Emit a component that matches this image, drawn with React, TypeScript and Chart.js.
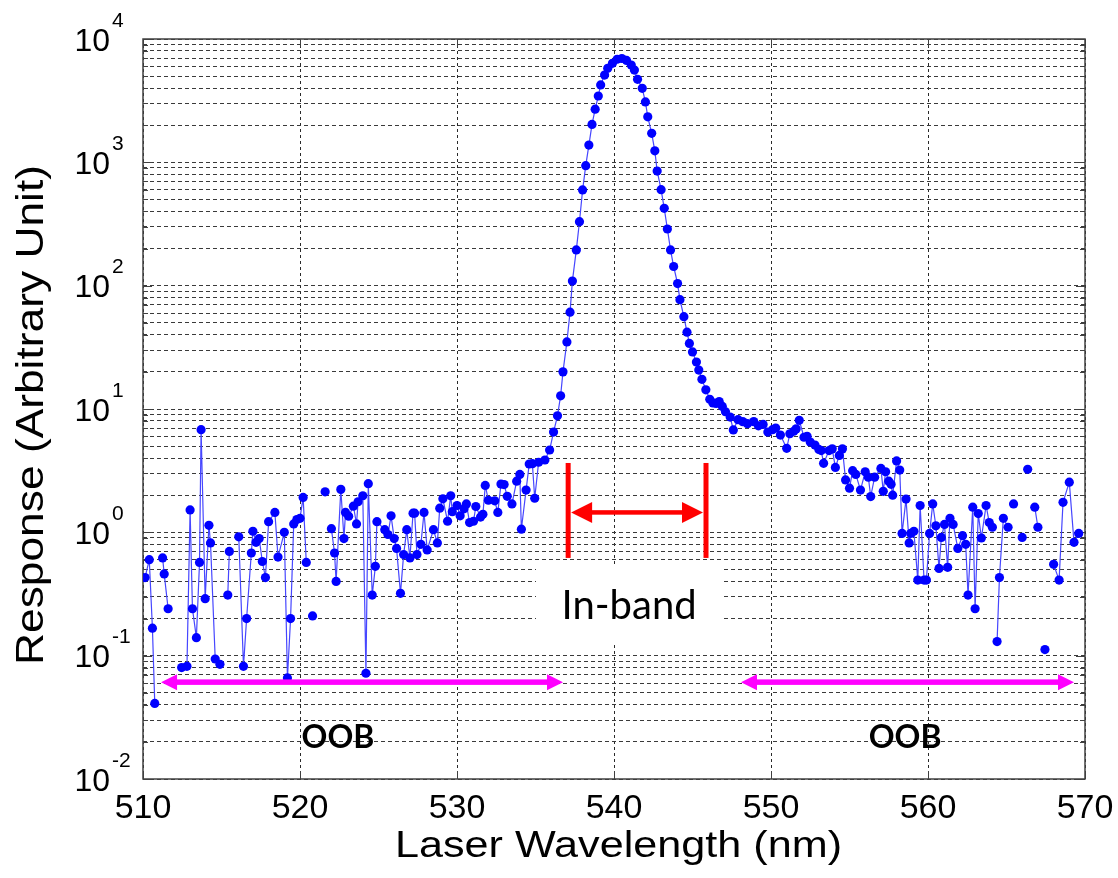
import React, { useEffect, useRef } from "react";
import { Chart, registerables } from "chart.js";

Chart.register(...registerables);

// ---- data (wavelength in nm, response in arbitrary unit; null = missing sample) ----
const wavelengths: number[] = [
  510.13, 510.4, 510.6, 510.75, 511.0, 511.25, 511.35, 511.6, 512.0, 512.46,
  512.8, 513.0, 513.15, 513.4, 513.6, 513.7, 513.96, 514.2, 514.3, 514.6,
  514.9, 515.15, 515.4, 515.5, 515.8, 516.1, 516.4, 516.6, 516.9, 517.0,
  517.2, 517.4, 517.6, 517.8, 518.0, 518.4, 518.6, 519.0, 519.2, 519.4,
  519.6, 519.8, 520.0, 520.2, 520.4, 520.6, 520.8, 521.2, 521.6, 521.8,
  522.0, 522.2, 522.3, 522.6, 522.8, 522.9, 523.1, 523.4, 523.6, 523.7,
  524.0, 524.2, 524.35, 524.6, 524.8, 524.9, 525.4, 525.6, 525.8, 526.0,
  526.15, 526.4, 526.6, 526.8, 527.0, 527.2, 527.3, 527.45, 527.7, 527.9,
  528.1, 528.5, 528.75, 528.9, 529.1, 529.4, 529.6, 529.7, 530.0, 530.2,
  530.45, 530.6, 530.8, 531.05, 531.2, 531.5, 531.65, 531.8, 532.0, 532.4,
  532.6, 532.8, 533.0, 533.2, 533.5, 533.8, 534.0, 534.1, 534.4, 534.6,
  534.8, 534.95, 535.2, 535.6, 535.9, 536.15, 536.4, 536.6, 536.75, 537.0,
  537.2, 537.35, 537.6, 537.8, 538.0, 538.2, 538.4, 538.6, 538.8, 539.0,
  539.15, 539.4, 539.6, 539.9, 540.2, 540.5, 540.8, 541.1, 541.3, 541.5,
  541.8, 542.0, 542.15, 542.4, 542.6, 542.75, 543.0, 543.2, 543.4, 543.6,
  543.8, 544.05, 544.2, 544.45, 544.65, 544.8, 545.0, 545.25, 545.4, 545.6,
  545.85, 546.1, 546.3, 546.5, 546.7, 546.9, 547.1, 547.4, 547.6, 547.9,
  548.2, 548.5, 548.9, 549.2, 549.5, 549.8, 550.1, 550.3, 550.6, 551.0,
  551.2, 551.45, 551.6, 551.8, 552.1, 552.3, 552.5, 552.8, 553.05, 553.2,
  553.35, 553.7, 553.9, 554.1, 554.35, 554.55, 554.75, 555.0, 555.2, 555.4,
  555.7, 556.0, 556.2, 556.35, 556.6, 557.0, 557.15, 557.3, 557.5, 557.65,
  557.75, 558.0, 558.2, 558.35, 558.6, 558.8, 558.9, 559.1, 559.35, 559.5,
  559.75, 559.9, 560.1, 560.3, 560.5, 560.7, 560.85, 561.05, 561.25, 561.4,
  561.6, 561.9, 562.2, 562.4, 562.55, 562.85, 563.0, 563.2, 563.4, 563.7,
  563.9, 564.1, 564.25, 564.4, 564.55, 564.8, 565.1, 565.3, 565.45, 565.8,
  566.0, 566.2, 566.35, 566.6, 566.8, 567.0, 567.2, 567.45, 567.7, 568.0,
  568.35, 568.6, 569.0, 569.3, 569.6,
];

const responses: (number | null)[] = [
  0.43, 0.6, 0.167, 0.041, null, 0.62, 0.46, 0.24, null, 0.08,
  0.082, 1.52, 0.24, 0.14, 0.57, 6.8, 0.29, 1.14, 0.82, 0.094,
  0.085, null, 0.31, 0.7, null, 0.92, 0.082, 0.2, 0.68, 1.02,
  0.83, 0.89, 0.58, 0.43, 1.22, 1.45, 0.63, 1.0, 0.066, 0.2,
  1.17, 1.27, 1.3, 1.92, 0.57, null, 0.21, null, 2.13, null,
  1.07, 0.68, 0.4, 2.23, 0.89, 1.45, 1.35, 1.63, 1.17, 1.77,
  1.98, 0.072, 2.48, 0.31, 0.53, 1.22, 1.05, 0.96, 1.36, 0.89,
  0.74, 0.32, 0.66, 1.05, 0.62, 1.43, 1.43, 0.66, 0.8, 1.45,
  0.72, 1.05, 0.82, 1.57, 1.87, 1.23, 1.98, 1.47, 1.65, 1.36,
  1.55, 1.7, 1.2, 1.23, 1.62, 1.33, 1.4, 2.4, 1.82, 1.8,
  1.45, 2.46, 2.44, 1.96, 1.7, 2.6, 2.95, 1.06, 2.2, 3.58,
  3.6, 1.89, 3.7, 3.86, 4.65, 6.5, 8.8, 12.8, 20, 35,
  61, 109, 195, 330, 597, 940, 1380, 2030, 2700, 3450,
  4240, 5100, 5780, 6350, 6850, 6950, 6700, 6150, 5600, 4710,
  3980, 3090, 2340, 1720, 1240, 850, 600, 424, 288, 195,
  143, 104, 77, 56, 42, 34, 29, 24, 20.7, 17.4,
  14.3, 12.0, 11.2, 11.1, 11.5, 10.5, 9.5, 8.6, 6.76, 8.2,
  7.9, 7.6, 7.9, 7.3, 7.5, 6.5, 6.8, 7.0, 6.15, 4.8,
  6.3, 6.6, 6.9, 8.1, 5.9, 6.0, 5.4, 5.1, 4.7, 4.6,
  3.63, 4.6, 4.75, 3.36, 4.2, 4.75, 2.66, 2.28, 3.16, 2.95,
  2.2, 3.1, 2.8, 1.95, 2.8, 3.3, 2.15, 3.1, 2.6, 2.45,
  2.0, 3.79, 3.2, 0.98, 1.86, 0.82, 0.98, 1.02, 0.41, 1.65,
  0.41, 0.41, 0.98, 1.7, 1.13, 0.51, 0.91, 1.16, 0.52, 1.3,
  1.16, 0.74, 0.94, 0.8, 0.31, 1.6, 0.24, 1.42, 0.9, 1.65,
  1.2, 1.1, null, 0.13, 0.43, 1.3, 1.1, null, 1.7, null,
  0.91, null, 3.24, null, 1.6, 1.1, null, 0.112, null, 0.55,
  0.41, 1.75, 2.55, 0.83, 0.98,
];

// ---- axes ----
const xTickValues = [510, 520, 530, 540, 550, 560, 570];
const yExponents = [-2, -1, 0, 1, 2, 3, 4];
const yMinorMultipliers = [1, 2, 3, 4, 5, 6, 7, 8, 9];
const xAxisTitle = "Laser Wavelength (nm)";
const yAxisTitle = "Response (Arbitrary Unit)";

// ---- annotations (data coordinates) ----
const inBandBarsX = [537.08, 545.86];
const inBandBarsY = [0.62, 3.65];
const inBandArrowY = 1.45;
const inBandLabel = "In-band";
const inBandLabelAt = [540.96, 0.2];
const inBandBoxX = [535.03, 546.82];
const inBandBoxY = [0.533, 0.122];
const oobArrowsX = [
  [511.15, 536.75],
  [548.09, 569.3],
];
const oobArrowY = 0.061;
const oobLabel = "OOB";
const oobLabelsX = [522.42, 558.54];
const oobLabelY = 0.0178;

const yTickValues: number[] = [];
yExponents.forEach((e) => {
  if (e === yExponents[yExponents.length - 1]) {
    yTickValues.push(Math.pow(10, e));
  } else {
    yMinorMultipliers.forEach((m) => yTickValues.push(Number((m * Math.pow(10, e)).toPrecision(3))));
  }
});

const AXIS_FONT = '"Liberation Sans", Arial, sans-serif';
const NOTE_FONT = 'Lato, "Open Sans", sans-serif';

function doubleArrow(
  ctx: CanvasRenderingContext2D,
  x1: number,
  x2: number,
  y: number,
  shaft: number,
  headLen: number,
  headHalf: number,
  color: string
) {
  ctx.fillStyle = color;
  ctx.fillRect(x1 + headLen - 1, y - shaft / 2, x2 - x1 - 2 * headLen + 2, shaft);
  ctx.beginPath();
  ctx.moveTo(x1, y);
  ctx.lineTo(x1 + headLen, y - headHalf);
  ctx.lineTo(x1 + headLen, y + headHalf);
  ctx.closePath();
  ctx.fill();
  ctx.beginPath();
  ctx.moveTo(x2, y);
  ctx.lineTo(x2 - headLen, y - headHalf);
  ctx.lineTo(x2 - headLen, y + headHalf);
  ctx.closePath();
  ctx.fill();
}

const overlayPlugin = {
  id: "overlay",
  beforeDatasetsDraw(chart: any) {
    const { ctx, chartArea: a, scales } = chart;
    const x = scales.x;
    const y = scales.y;
    ctx.save();
    // white label box that hides the grid
    const bx1 = x.getPixelForValue(inBandBoxX[0]);
    const bx2 = x.getPixelForValue(inBandBoxX[1]);
    const by1 = y.getPixelForValue(inBandBoxY[0]);
    const by2 = y.getPixelForValue(inBandBoxY[1]);
    ctx.fillStyle = "#ffffff";
    ctx.fillRect(bx1, by1, bx2 - bx1, by2 - by1);
    // frame
    ctx.strokeStyle = "#404040";
    ctx.lineWidth = 1.5;
    ctx.strokeRect(a.left, a.top, a.right - a.left, a.bottom - a.top);
    // inner tick marks
    ctx.lineWidth = 1;
    ctx.beginPath();
    yTickValues.forEach((v) => {
      const py = Math.round(y.getPixelForValue(v)) + 0.5;
      const major = Math.abs(Math.log10(v) - Math.round(Math.log10(v))) < 1e-6;
      const len = major ? 9 : 5;
      ctx.moveTo(a.left, py);
      ctx.lineTo(a.left + len, py);
      ctx.moveTo(a.right, py);
      ctx.lineTo(a.right - len, py);
    });
    xTickValues.forEach((v) => {
      const px = Math.round(x.getPixelForValue(v)) + 0.5;
      ctx.moveTo(px, a.top);
      ctx.lineTo(px, a.top + 8);
      ctx.moveTo(px, a.bottom);
      ctx.lineTo(px, a.bottom - 8);
    });
    ctx.stroke();
    ctx.restore();
  },
  afterDatasetsDraw(chart: any) {
    const { ctx, scales } = chart;
    const x = scales.x;
    const y = scales.y;
    ctx.save();
    // in-band bars and arrow
    const barTop = y.getPixelForValue(inBandBarsY[1]);
    const barBot = y.getPixelForValue(inBandBarsY[0]);
    const bl = x.getPixelForValue(inBandBarsX[0]);
    const br = x.getPixelForValue(inBandBarsX[1]);
    ctx.fillStyle = "#ff0000";
    ctx.fillRect(bl - 2.5, barTop, 5, barBot - barTop);
    ctx.fillRect(br - 2.5, barTop, 5, barBot - barTop);
    doubleArrow(ctx, bl + 3, br - 3, y.getPixelForValue(inBandArrowY), 4.5, 21, 10.5, "#ff0000");
    // in-band label
    ctx.fillStyle = "#000000";
    ctx.font = `40px ${NOTE_FONT}`;
    ctx.textAlign = "center";
    ctx.textBaseline = "alphabetic";
    ctx.fillText(inBandLabel, x.getPixelForValue(inBandLabelAt[0]), y.getPixelForValue(inBandLabelAt[1]), 136);
    // OOB arrows
    const ay = y.getPixelForValue(oobArrowY);
    oobArrowsX.forEach(([x1, x2]) => {
      doubleArrow(ctx, x.getPixelForValue(x1), x.getPixelForValue(x2), ay, 5.5, 16, 8, "#ff00ff");
    });
    // OOB labels
    ctx.fillStyle = "#000000";
    ctx.font = `bold 32px ${NOTE_FONT}`;
    oobLabelsX.forEach((v) => {
      ctx.fillText(oobLabel, x.getPixelForValue(v), y.getPixelForValue(oobLabelY));
    });
    ctx.restore();
  },
  afterDraw(chart: any) {
    const { ctx, chartArea: a, scales } = chart;
    const x = scales.x;
    const y = scales.y;
    ctx.save();
    ctx.fillStyle = "#000000";
    ctx.textBaseline = "alphabetic";
    // x tick labels
    ctx.font = `34px ${AXIS_FONT}`;
    ctx.textAlign = "center";
    xTickValues.forEach((v) => {
      ctx.fillText(String(v), x.getPixelForValue(v), a.bottom + 39);
    });
    // y tick labels: 10 with superscript exponent
    yExponents.forEach((e) => {
      const py = y.getPixelForValue(Math.pow(10, e));
      ctx.font = `32px ${AXIS_FONT}`;
      ctx.textAlign = "right";
      ctx.fillText("10", a.left - 33, py + 11.5);
      ctx.font = `21px ${AXIS_FONT}`;
      ctx.textAlign = "left";
      ctx.fillText(String(e), a.left - 31, py - 12.5);
    });
    // x title
    ctx.font = `36px ${AXIS_FONT}`;
    ctx.textAlign = "center";
    const wx = ctx.measureText(xAxisTitle).width;
    ctx.save();
    ctx.translate((a.left + a.right) / 2 + 4.5, a.bottom + 78);
    ctx.scale(447 / wx, 1);
    ctx.fillText(xAxisTitle, 0, 0);
    ctx.restore();
    // y title
    ctx.font = `39px ${AXIS_FONT}`;
    const wy = ctx.measureText(yAxisTitle).width;
    ctx.save();
    ctx.translate(a.left - 100, (a.top + a.bottom) / 2 + 6);
    ctx.rotate(-Math.PI / 2);
    ctx.scale(500 / wy, 1);
    ctx.fillText(yAxisTitle, 0, 0);
    ctx.restore();
    ctx.restore();
  },
};

export default function App() {
  const canvasRef = useRef<HTMLCanvasElement | null>(null);

  useEffect(() => {
    const canvas = canvasRef.current;
    if (!canvas) return;
    const points = wavelengths.map((w, i) => ({ x: w, y: responses[i] }));
    const chart = new Chart(canvas, {
      type: "line",
      data: {
        datasets: [
          {
            data: points as any,
            borderColor: "#4646ff",
            borderWidth: 1.2,
            pointRadius: 4.6,
            pointBackgroundColor: "#0000ff",
            pointBorderColor: "#0000ff",
            pointBorderWidth: 0,
            spanGaps: false,
            tension: 0,
            fill: false,
          },
        ],
      },
      options: {
        animation: false,
        responsive: false,
        maintainAspectRatio: false,
        devicePixelRatio: 1,
        events: [],
        layout: { padding: { left: 143, top: 39, right: 33, bottom: 99 } },
        plugins: { legend: { display: false }, tooltip: { enabled: false } },
        scales: {
          x: {
            type: "linear",
            min: 510,
            max: 570,
            afterBuildTicks: (s: any) => {
              s.ticks = xTickValues.map((v) => ({ value: v }));
            },
            ticks: { display: false },
            grid: { color: "#2a2a2a", lineWidth: 1, drawTicks: false },
            border: { display: false, dash: [3, 3] },
          },
          y: {
            type: "logarithmic",
            min: 0.01,
            max: 10000,
            afterBuildTicks: (s: any) => {
              s.ticks = yTickValues.map((v) => ({ value: v }));
            },
            ticks: { display: false },
            grid: { color: "#3a3a3a", lineWidth: 1, drawTicks: false },
            border: { display: false, dash: [4, 3] },
          },
        },
      },
      plugins: [overlayPlugin],
    });
    return () => chart.destroy();
  }, []);

  return (
    <canvas
      ref={canvasRef}
      width={1118}
      height={878}
      style={{ position: "absolute", left: 0, top: 0, display: "block" }}
    />
  );
}
